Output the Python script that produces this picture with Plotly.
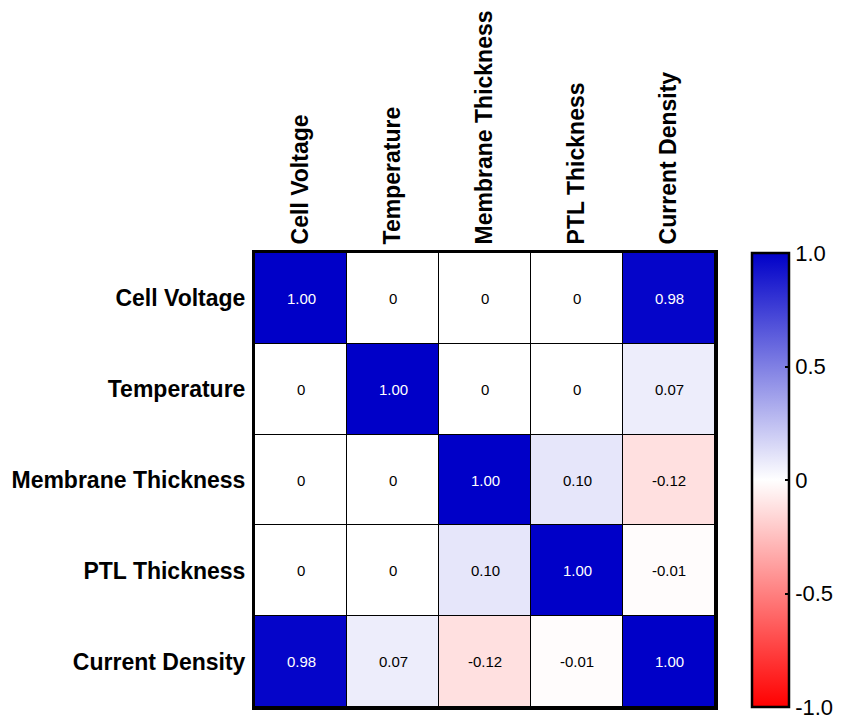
import plotly.graph_objects as go

labels = ["Cell Voltage", "Temperature", "Membrane Thickness", "PTL Thickness", "Current Density"]
corr = [
    [1.00, 0.00, 0.00, 0.00, 0.98],
    [0.00, 1.00, 0.00, 0.00, 0.07],
    [0.00, 0.00, 1.00, 0.10, -0.12],
    [0.00, 0.00, 0.10, 1.00, -0.01],
    [0.98, 0.07, -0.12, -0.01, 1.00],
]
cbar_vals = [-1.0, -0.5, 0, 0.5, 1.0]
cbar_text = ["-1.0", "-0.5", "0", "0.5", "1.0"]

def fmt(v):
    return "0" if v == 0 else f"{v:.2f}"

colorscale = [[0.0, "rgb(255,0,0)"], [0.5, "rgb(255,255,255)"], [1.0, "rgb(0,0,200)"]]

plot_w = 850 - 255 - 135
cb_x = 1.08
cb_th = 37

fig = go.Figure()
fig.add_trace(go.Heatmap(
    z=corr, x=labels, y=labels,
    zmin=-1, zmax=1, colorscale=colorscale,
    xgap=1, ygap=1, hoverinfo="skip",
    colorbar=dict(
        x=cb_x, xanchor="left", xref="paper",
        y=0.5, yanchor="middle", len=1.0, lenmode="fraction",
        thickness=cb_th, thicknessmode="pixels",
        outlinewidth=2.5, outlinecolor="black",
        tickvals=cbar_vals, ticktext=cbar_text, tickprefix="  ",
        ticks="inside", ticklen=5, tickwidth=1.5, tickcolor="black",
        tickfont=dict(family="Arial, Liberation Sans", size=22, color="black"),
        ypad=0, xpad=0,
    ),
))

annotations = []
for i, row in enumerate(corr):
    for j, v in enumerate(row):
        annotations.append(dict(
            x=labels[j], y=labels[i], text=fmt(v), showarrow=False,
            font=dict(family="Arial, Liberation Sans", size=15,
                      color="white" if v > 0.5 else "black"),
        ))

# left-side inner ticks on the colorbar (mirroring the right-side ticks)
shapes = []
for v in cbar_vals[1:-1]:
    yy = (v + 1) / 2
    shapes.append(dict(type="line", xref="paper", yref="paper",
                       x0=cb_x, x1=cb_x + 6 / plot_w, y0=yy, y1=yy,
                       line=dict(color="black", width=1.5)))

fig.update_layout(
    width=850, height=720,
    margin=dict(l=255, r=135, t=252, b=10),
    paper_bgcolor="white", plot_bgcolor="black",
    annotations=annotations, shapes=shapes,
    xaxis=dict(side="top", tickangle=-90, showgrid=False, zeroline=False,
               showline=True, linewidth=3, linecolor="black", mirror=True,
               ticks="", ticklabelstandoff=1,
               tickfont=dict(family="Arial, Liberation Sans", size=23, color="black", weight="bold")),
    yaxis=dict(autorange="reversed", showgrid=False, zeroline=False,
               showline=True, linewidth=3, linecolor="black", mirror=True,
               ticks="", ticklabelstandoff=2,
               tickfont=dict(family="Arial, Liberation Sans", size=23, color="black", weight="bold")),
)

fig.write_html("out.html")
